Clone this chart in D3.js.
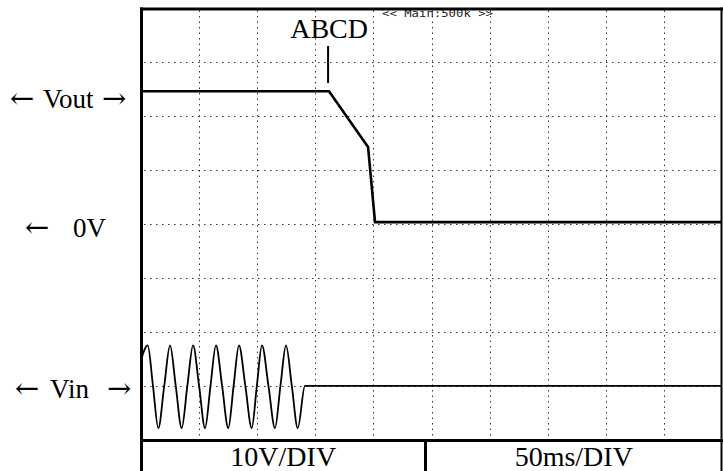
<!DOCTYPE html>
<html>
<head>
<meta charset="utf-8">
<script src="https://cdn.jsdelivr.net/npm/d3@7"></script>
<style>
  body { margin: 0; background: #fff; }
  svg { display: block; }
  text { font-family: "Liberation Serif", "Times New Roman", serif; fill: #000; }
</style>
</head>
<body>
<script>
// time in ms, volts
VOUT_TIMES = [0, 161.8, 195.4, 201.4, 500];
VOUT_VALUES = [24.2, 24.2, 13.9, 0, 0];

VIN_TIMES = [0, 5.8, 10.3, 14.9, 20.0, 25.0, 29.9, 35.0, 39.9, 44.8, 50.0, 55.1, 59.8,
             64.5, 69.8, 75.1, 79.7, 84.3, 89.8, 95.3, 99.7, 104.1, 109.7, 115.3, 120.0,
             124.8, 129.8, 134.9, 141.1, 500];
VIN_VALUES = [4.8, 7.5, 0, -7.8, 0, 7.5, 0, -7.8, 0, 7.5, 0, -7.8, 0,
              7.5, 0, -7.8, 0, 7.5, 0, -7.8, 0, 7.5, 0, -7.8, 0,
              7.5, 0, -7.8, 0, 0];

MARKER_TIME = 161.0;
MARKER_LABEL = "ABCD";
VOLT_LABEL = "10V/DIV";
TIME_LABEL = "50ms/DIV";
SCOPE_HEADER = "<< Main:500k >>";

var W = 723, H = 471;
var plotLeft = 141, plotRight = 722, plotTop = 7.5, plotBottom = 440;

var svg = d3.select("body").append("svg")
    .attr("width", W)
    .attr("height", H);

var x = d3.scaleLinear().domain([0, 500]).range([plotLeft, plotRight]);
var yDiv = d3.scaleLinear().domain([0, 8]).range([plotTop, plotBottom]);

// each channel is 10V per division, with its own ground position
function channelY(zeroDiv) {
    return function(v) { return yDiv(zeroDiv - v / 10); };
}
var yOut = channelY(3.97);
var yIn = channelY(7.0);

// dotted grid
svg.append("g").selectAll("line")
    .data(d3.range(50, 500, 50))
    .enter().append("line")
    .attr("x1", d => Math.round(x(d)) + 0.5)
    .attr("x2", d => Math.round(x(d)) + 0.5)
    .attr("y1", plotTop + 3)
    .attr("y2", plotBottom - 2)
    .style("stroke", "#333")
    .style("stroke-width", 1)
    .style("stroke-dasharray", "1.5,4");

svg.append("g").selectAll("line")
    .data(d3.range(1, 8))
    .enter().append("line")
    .attr("x1", plotLeft + 3)
    .attr("x2", plotRight - 2)
    .attr("y1", d => Math.round(yDiv(d)) + 0.5)
    .attr("y2", d => Math.round(yDiv(d)) + 0.5)
    .style("stroke", "#333")
    .style("stroke-width", 1)
    .style("stroke-dasharray", "1.5,4.5");

// traces
var vout = VOUT_TIMES.map((t, i) => [t, VOUT_VALUES[i]]);
var vin = VIN_TIMES.map((t, i) => [t, VIN_VALUES[i]]);

svg.append("path")
    .datum(vin)
    .attr("d", d3.line().x(d => x(d[0])).y(d => yIn(d[1])).curve(d3.curveMonotoneX))
    .style("fill", "none")
    .style("stroke", "#000")
    .style("stroke-width", 1.8);

svg.append("path")
    .datum(vout)
    .attr("d", d3.line().x(d => x(d[0])).y(d => yOut(d[1])))
    .style("fill", "none")
    .style("stroke", "#000")
    .style("stroke-width", 2.6)
    .style("stroke-linejoin", "miter");

// marker
svg.append("line")
    .attr("x1", x(MARKER_TIME)).attr("x2", x(MARKER_TIME))
    .attr("y1", 46).attr("y2", 83)
    .style("stroke", "#000")
    .style("stroke-width", 2);

svg.append("text")
    .attr("x", x(MARKER_TIME) + 1)
    .attr("y", 38)
    .attr("text-anchor", "middle")
    .style("font-size", "28px")
    .text(MARKER_LABEL);

svg.append("text")
    .attr("x", 382)
    .attr("y", 17)
    .attr("textLength", 111)
    .attr("lengthAdjust", "spacingAndGlyphs")
    .style("font-family", "'DejaVu Sans Mono', monospace")
    .style("font-size", "10px")
    .style("fill", "#222")
    .text(SCOPE_HEADER);

// frame
var frame = svg.append("g").style("stroke", "#000");
frame.append("line").attr("x1", plotLeft - 1).attr("x2", plotRight + 1).attr("y1", 9).attr("y2", 9).style("stroke-width", 3);
frame.append("line").attr("x1", plotLeft - 1).attr("x2", plotRight + 1).attr("y1", 440.5).attr("y2", 440.5).style("stroke-width", 3);
frame.append("line").attr("x1", 141.5).attr("x2", 141.5).attr("y1", 7.5).attr("y2", H).style("stroke-width", 3);
frame.append("line").attr("x1", 721.5).attr("x2", 721.5).attr("y1", 7.5).attr("y2", H).style("stroke-width", 2);
frame.append("line").attr("x1", 425.5).attr("x2", 425.5).attr("y1", 440).attr("y2", H).style("stroke-width", 3);

// bottom band labels
svg.append("text")
    .attr("x", (plotLeft + 425.5) / 2)
    .attr("y", 466)
    .attr("text-anchor", "middle")
    .style("font-size", "28px")
    .text(VOLT_LABEL);

svg.append("text")
    .attr("x", (425.5 + plotRight) / 2)
    .attr("y", 466)
    .attr("text-anchor", "middle")
    .style("font-size", "28px")
    .text(TIME_LABEL);

// channel labels on the left
function sideLabel(y, parts) {
    var t = svg.append("text").attr("y", y).style("font-size", "27px");
    parts.forEach(function(p) {
        var s = t.append("tspan").attr("x", p[0]).text(p[1]);
        if (p[1].length == 1) s.style("font-family", "'DejaVu Serif', serif").style("font-size", "29px");
    });
}
sideLabel(108, [[10, "\u2190"], [43, "Vout"], [102, "\u2192"]]);
sideLabel(237, [[25, "\u2190"], [73, "0V"]]);
sideLabel(398, [[15, "\u2190"], [50, "Vin"], [107, "\u2192"]]);
</script>
</body>
</html>
